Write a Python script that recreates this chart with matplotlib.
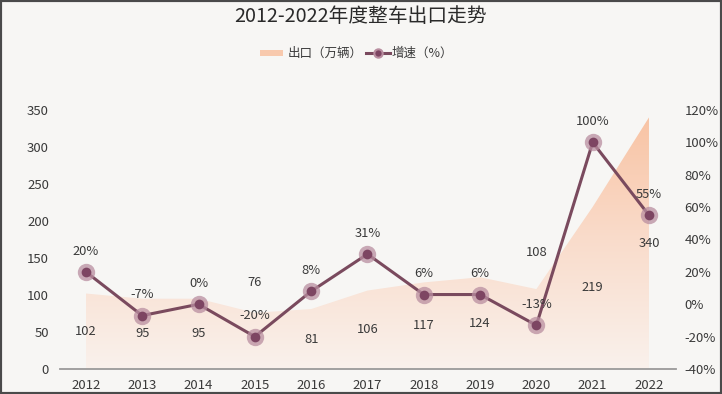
import matplotlib.pyplot as plt
import numpy as np
from matplotlib.colors import LinearSegmentedColormap
from matplotlib.patches import Rectangle

plt.rcParams['font.family'] = ['Noto Sans CJK SC', 'DejaVu Sans']

years = ['2012', '2013', '2014', '2015', '2016', '2017', '2018', '2019', '2020', '2021', '2022']
exports = [102, 95, 95, 76, 81, 106, 117, 124, 108, 219, 340]
growth = [20, -7, 0, -20, 8, 31, 6, 6, -13, 100, 55]

bg = '#f7f6f4'
txt = '#3a3a3a'
line_c = '#7a4a5e'
fs = 9.3

fig = plt.figure(figsize=(7.22, 3.94), dpi=100, facecolor=bg)
ax = fig.add_axes([60/722, 25/394, 616/722, 259/394])
ax.set_facecolor(bg)
x = np.arange(len(years))

# gradient filled area
ax.set_xlim(-0.46, 10.48)
ax.set_ylim(0, 350)
poly = ax.fill_between(x, 0, exports, color='none', lw=0)
cmap = LinearSegmentedColormap.from_list('pe', ['#f9f1ec', '#fadccb', '#f8c2a2'])
grad = np.linspace(0, 1, 256).reshape(-1, 1)
img = ax.imshow(grad, extent=[x[0], x[-1], 0, 350], origin='lower',
                aspect='auto', cmap=cmap, zorder=1)
img.set_clip_path(poly.get_paths()[0], transform=ax.transData)

for sp in ['top', 'left', 'right']:
    ax.spines[sp].set_visible(False)
ax.spines['bottom'].set_color('#9a9a9a')
ax.spines['bottom'].set_linewidth(1.3)
ax.tick_params(length=0, labelsize=9.5, labelcolor=txt, pad=7)
ax.set_xticks(x)
ax.set_xticklabels(years)
ax.set_yticks(range(0, 351, 50))
ax.tick_params(axis='y', pad=8)

# export labels, placed mid-height (two moved above)
above = {3: 22, 8: 26}
for i, v in enumerate(exports):
    if i in above:
        ax.annotate(str(v), (i, v), xytext=(0, above[i]), textcoords='offset points',
                    ha='center', va='center', fontsize=fs, color=txt)
    else:
        ax.text(i, v / 2, str(v), ha='center', va='center', fontsize=fs, color=txt)

# growth line
ax2 = ax.twinx()
ax2.set_ylim(-40, 120)
ax2.set_yticks(range(-40, 121, 20))
ax2.set_yticklabels([f'{t}%' for t in range(-40, 121, 20)])
for sp in ax2.spines.values():
    sp.set_visible(False)
ax2.tick_params(length=0, labelsize=9.5, labelcolor=txt, pad=6)
ax2.plot(x, growth, color=line_c, lw=2.2, zorder=3)
ax2.plot(x, growth, 'o', ms=12.5, color='#b98ea0', alpha=0.75, mec='none', zorder=4)
ax2.plot(x, growth, 'o', ms=7, color='#7d4562', mec='none', zorder=5)
for i, g in enumerate(growth):
    ax2.annotate(f'{g}%', (i, g), xytext=(0, 15), textcoords='offset points',
                 ha='center', va='center', fontsize=fs, color=txt)

fig.text(0.5, 1 - 17/394, '2012-2022年度整车出口走势', ha='center', va='center',
         fontsize=14.2, color='#2a2a2a')

# legend
ly = 1 - 53/394
fig.patches.append(Rectangle((260/722, ly - 3/394), 23/722, 6/394, transform=fig.transFigure,
                             color='#f8c9ad', lw=0))
fig.text(288/722, ly, '出口（万辆）', ha='left', va='center', fontsize=9, color=txt)
fig.lines.append(plt.Line2D([366/722, 390/722], [ly, ly], transform=fig.transFigure,
                            color=line_c, lw=2.2))
fig.lines.append(plt.Line2D([378/722], [ly], transform=fig.transFigure, marker='o',
                            ms=6, color='#7d4562', mec='#b98ea0', mew=1.5))
fig.text(392/722, ly, '增速（%）', ha='left', va='center', fontsize=9, color=txt)

# frame
fig.patches.append(Rectangle((0, 0), 1, 1, transform=fig.transFigure, fill=False,
                             ec='#4a4a4a', lw=3))

fig.savefig('out.png', dpi=100, facecolor=bg)
